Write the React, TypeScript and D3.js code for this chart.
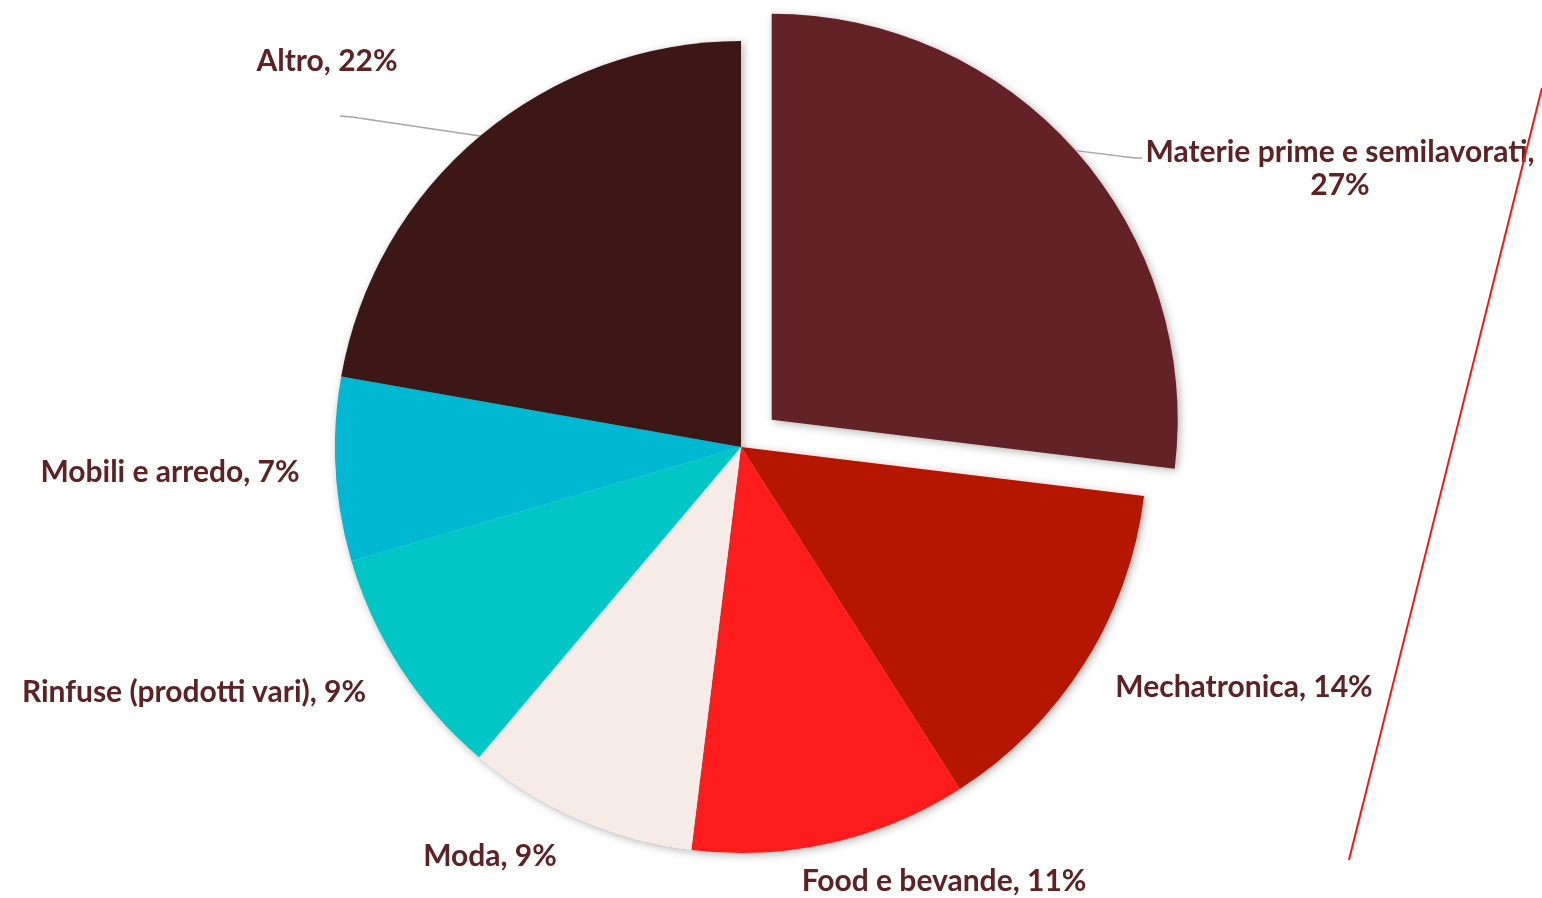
import React from "react";
import * as d3 from "d3";

const categories = [
  "Materie prime e semilavorati",
  "Mechatronica",
  "Food e bevande",
  "Moda",
  "Rinfuse (prodotti vari)",
  "Mobili e arredo",
  "Altro",
];
const values = [26.9, 14.0, 11.0, 9.2, 9.3, 7.3, 22.2];
const percentLabels = ["27%", "14%", "11%", "9%", "9%", "7%", "22%"];
const colors = ["#632325", "#b51400", "#fd1e1b", "#f6ebe6", "#02c7c6", "#01b8d2", "#3c1817"];

// label layout: [x center, baseline y, two-line?]
const labelLayout: [number, number, boolean][] = [
  [1340, 162, true],
  [1244, 697, false],
  [944, 891, false],
  [490, 866, false],
  [194, 702, false],
  [170, 482, false],
  [327, 71, false],
];
const leaderEnds: ([number, number][] | null)[] = [
  [[1135, 158], [1142, 158]],
  null, null, null, null, null,
  [[352, 117], [340, 116]],
];

export default function App() {
  const W = 1542, H = 898;
  const cx = 741, cy = 447, R = 406, explode = 41;
  const pie = d3.pie<number>().sort(null).value((d) => d).startAngle(0).endAngle(2 * Math.PI);
  const arcs = pie(values);
  const arcGen = d3.arc<d3.PieArcDatum<number>>().innerRadius(0).outerRadius(R);
  const labelColor = "#5f2124";
  return (
    <svg width={W} height={H} style={{ position: "absolute", left: 0, top: 0, background: "#fff" }}>
      <defs>
        <filter id="sh" x="-20%" y="-20%" width="140%" height="140%">
          <feDropShadow dx="2" dy="2" stdDeviation="4" floodColor="#000" floodOpacity="0.3" />
        </filter>
      </defs>
      <g filter="url(#sh)">
        {arcs.map((a, i) => {
          const mid = (a.startAngle + a.endAngle) / 2;
          const off = i === 0 ? explode : 0;
          const ox = cx + off * Math.sin(mid);
          const oy = cy - off * Math.cos(mid);
          return (
            <path key={i} d={arcGen(a) || ""} transform={`translate(${ox},${oy})`} fill={colors[i]} />
          );
        })}
      </g>
      {arcs.map((a, i) => {
        const ends = leaderEnds[i];
        if (!ends) return null;
        const mid = (a.startAngle + a.endAngle) / 2;
        const off = i === 0 ? explode : 0;
        const ox = cx + off * Math.sin(mid);
        const oy = cy - off * Math.cos(mid);
        const sx = ox + R * Math.sin(mid);
        const sy = oy - R * Math.cos(mid);
        const pts: [number, number][] = [[sx, sy], ...ends];
        return (
          <path key={"l" + i} d={d3.line()(pts) || ""} fill="none" stroke="#a6a6a6" strokeWidth={1.5} />
        );
      })}
      {categories.map((c, i) => {
        const [x, y, two] = labelLayout[i];
        const style = { fontFamily: "Lato, 'Open Sans', sans-serif", fontWeight: 700, fontSize: 30, fill: labelColor };
        if (two) {
          return (
            <text key={"t" + i} x={x} y={y} textAnchor="middle" style={style}>
              <tspan x={x} y={y}>{c},</tspan>
              <tspan x={x} y={y + 33}>{percentLabels[i]}</tspan>
            </text>
          );
        }
        return (
          <text key={"t" + i} x={x} y={y} textAnchor="middle" style={style}>
            {c}, {percentLabels[i]}
          </text>
        );
      })}
      <line x1={1542} y1={88} x2={1349} y2={860} stroke="#ff1010" strokeWidth={2} />
    </svg>
  );
}
